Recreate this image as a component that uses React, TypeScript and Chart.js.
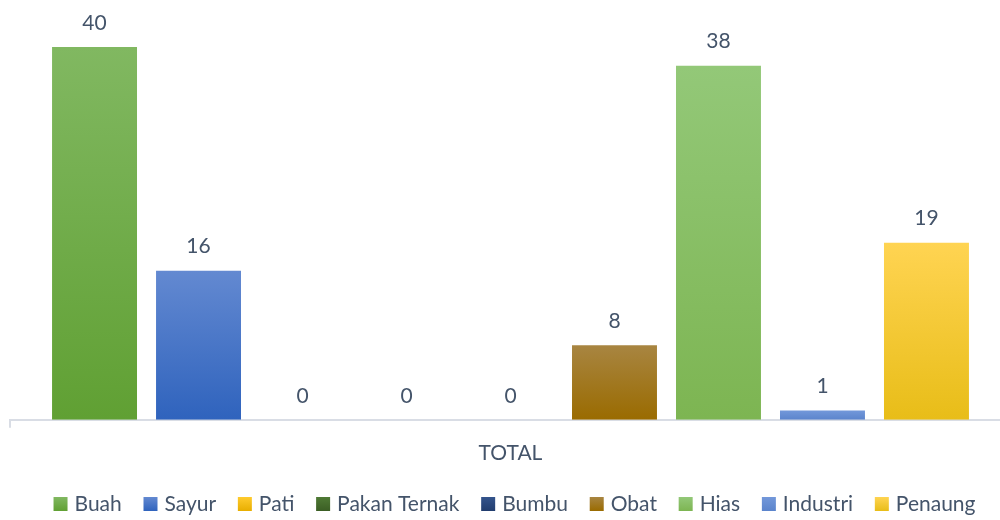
import React, { useEffect, useRef } from 'react';
import { Chart, registerables } from 'chart.js';

Chart.register(...registerables);

const categories = ['TOTAL'];
const seriesNames = ['Buah', 'Sayur', 'Pati', 'Pakan Ternak', 'Bumbu', 'Obat', 'Hias', 'Industri', 'Penaung'];
const seriesValues = [40, 16, 0, 0, 0, 8, 38, 1, 19];
const topColors = ['#81b861', '#6389d1', '#ffcb2e', '#4f7a35', '#34548c', '#a88541', '#93c878', '#7398da', '#ffd452'];
const bottomColors = ['#60a033', '#2f63bd', '#e8ae00', '#3b5e24', '#213d6e', '#9a6b00', '#7db552', '#5b84cc', '#e8bd18'];

const FONT = 'Lato';
const TEXT_COLOR = '#44546a';
const AXIS_COLOR = '#d9dde5';

const labelPlugin = {
  id: 'barLabels',
  afterDatasetsDraw(chart: any) {
    const ctx = chart.ctx;
    ctx.save();
    ctx.font = `21px ${FONT}`;
    ctx.fillStyle = TEXT_COLOR;
    ctx.textAlign = 'center';
    ctx.textBaseline = 'middle';
    chart.data.datasets.forEach((ds: any, i: number) => {
      const meta = chart.getDatasetMeta(i);
      meta.data.forEach((el: any, j: number) => {
        ctx.fillText(String(ds.data[j]), el.x, el.y - 24);
      });
    });
    ctx.restore();
  },
};

const legendPlugin = {
  id: 'customLegend',
  afterDraw(chart: any) {
    const ctx = chart.ctx;
    const BOX = 14;
    const GAP = 7;
    const ITEM_GAP = 21.75;
    ctx.save();
    ctx.font = `21px ${FONT}`;
    const widths = chart.data.datasets.map((ds: any) => ctx.measureText(ds.label).width);
    const total = widths.reduce((a: number, w: number) => a + BOX + GAP + w, 0) + ITEM_GAP * (widths.length - 1);
    const cx = (chart.chartArea.left + chart.chartArea.right) / 2 + 4;
    const cy = chart.height - 16;
    let x = cx - total / 2;
    chart.data.datasets.forEach((ds: any, i: number) => {
      const g = ctx.createLinearGradient(0, cy - BOX / 2, 0, cy + BOX / 2);
      g.addColorStop(0, topColors[i]);
      g.addColorStop(1, bottomColors[i]);
      ctx.fillStyle = g;
      ctx.fillRect(x, cy - BOX / 2, BOX, BOX);
      ctx.fillStyle = TEXT_COLOR;
      ctx.textAlign = 'left';
      ctx.textBaseline = 'middle';
      ctx.fillText(ds.label, x + BOX + GAP, cy);
      x += BOX + GAP + widths[i] + ITEM_GAP;
    });
    ctx.restore();
  },
};

export default function App() {
  const ref = useRef<HTMLCanvasElement | null>(null);

  useEffect(() => {
    if (!ref.current) return;
    const datasets = seriesNames.map((name, i) => ({
      label: name,
      data: [seriesValues[i]],
      backgroundColor: (c: any) => {
        const chart = c.chart;
        const area = chart.chartArea;
        if (!area || c.type !== 'data' || !chart.scales.y) return bottomColors[i];
        const y = chart.scales.y;
        const v = c.raw as number;
        const top = y.getPixelForValue(v);
        const base = y.getPixelForValue(0);
        if (base - top < 1) return bottomColors[i];
        const g = chart.ctx.createLinearGradient(0, top, 0, base);
        g.addColorStop(0, topColors[i]);
        g.addColorStop(1, bottomColors[i]);
        return g;
      },
      borderWidth: 0,
      barPercentage: 0.817,
      categoryPercentage: 0.935,
    }));

    const chart = new Chart(ref.current, {
      type: 'bar',
      data: { labels: categories, datasets },
      options: {
        animation: false,
        responsive: true,
        maintainAspectRatio: false,
        layout: { padding: { top: 47, left: 10, right: 1, bottom: 41 } },
        scales: {
          x: {
            grid: {
              display: true,
              drawOnChartArea: false,
              drawTicks: true,
              tickLength: 8,
              color: AXIS_COLOR,
              lineWidth: 2,
            },
            border: { display: true, color: AXIS_COLOR, width: 2 },
            ticks: { color: TEXT_COLOR, font: { family: FONT, size: 21 }, padding: 13 },
          },
          y: { display: false, min: 0, max: 40 },
        },
        plugins: {
          tooltip: { enabled: false },
          legend: { display: false },
        },
      },
      plugins: [labelPlugin, legendPlugin],
    });
    return () => chart.destroy();
  }, []);

  return (
    <div style={{ position: 'fixed', left: 0, top: 0, width: 1000, height: 520, overflow: 'hidden', background: '#fff' }}>
      <div style={{ position: 'relative', width: 1012, height: 520 }}>
        <canvas ref={ref} />
      </div>
    </div>
  );
}
